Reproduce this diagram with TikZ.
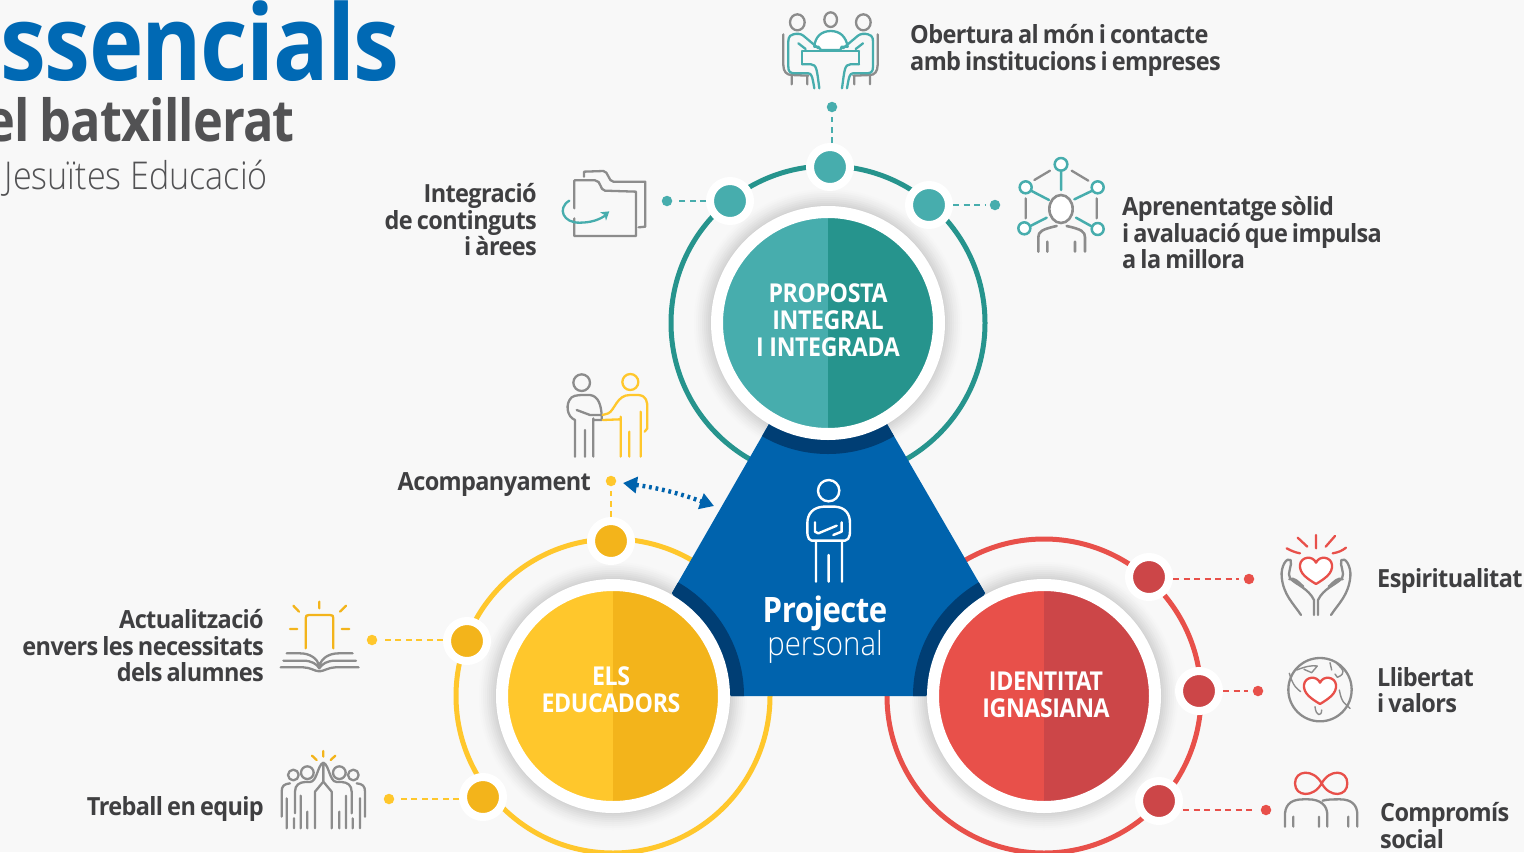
\documentclass[tikz,border=0pt]{standalone}
\usepackage{fontspec}
\usetikzlibrary{arrows.meta,calc}
\setmainfont{Open Sans}
\newfontfamily\oslab[FakeStretch=0.94,LetterSpace=-2.5,WordSpace=0.75]{Open Sans}
\newfontfamily\osdisc[FakeStretch=0.89,LetterSpace=-1.5]{Open Sans}
\newfontfamily\ostitle[FakeStretch=0.878,LetterSpace=-1.5]{Open Sans}
\newfontfamily\ostwo[FakeStretch=0.87,LetterSpace=-1.5,WordSpace=0.8]{Open Sans}
\newfontfamily\oslight[FakeStretch=0.89]{Open Sans Light}
\definecolor{bgc}{HTML}{F8F8F8}
\definecolor{tealL}{HTML}{47ADAD}
\definecolor{tealD}{HTML}{26948D}
\definecolor{yelL}{HTML}{FFC72C}
\definecolor{yelD}{HTML}{F3B41B}
\definecolor{redL}{HTML}{E8504A}
\definecolor{redD}{HTML}{CC4648}
\definecolor{blueM}{HTML}{0063AD}
\definecolor{blueD}{HTML}{003E74}
\definecolor{titleblue}{HTML}{0069B4}
\definecolor{txt}{HTML}{3F3F41}
\definecolor{ico}{HTML}{8C8C8C}
\newcommand{\labfont}{\oslab\bfseries\fontsize{25}{26.7}\selectfont}
\newcommand{\discfont}{\osdisc\bfseries\fontsize{26}{27}\selectfont}
\newcommand{\hrt}[1]{\draw[#1,fill=white] (558,192) .. controls (530,175) and (508,160) .. (510,135) .. controls (512,110) and (548,105) .. (558,128) .. controls (568,105) and (604,110) .. (606,135) .. controls (608,160) and (586,175) .. (558,192) -- cycle;}
\tikzset{
  lab/.style={text=txt,font=\labfont,inner sep=0pt},
  labL/.style={lab,align=left,anchor=north west},
  labR/.style={lab,align=right,anchor=north east},
  disctxt/.style={text=white,font=\discfont,align=center,inner sep=0pt},
  disc/.style n args={2}{circle,minimum size=222pt,inner sep=0pt,draw=white,line width=12pt,fill=#1,
    path picture={\fill[#2] (path picture bounding box.north) rectangle (path picture bounding box.south east);}},
  bigdot/.style={circle,minimum size=40pt,inner sep=0pt,draw=white,line width=8pt,fill=#1},
  smalldot/.style={circle,minimum size=10.5pt,inner sep=0pt,fill=#1},
  conn/.style={draw=#1,line width=2.8pt,dash pattern=on 6pt off 4.5pt,shorten >=5pt},
  ring/.style={draw=#1,line width=5pt},
  ig/.style={draw=ico,line width=2.3pt,line cap=round,line join=round},
  ic/.style={draw=#1,line width=2.3pt,line cap=round,line join=round},
  zm/.style={shift={#1},x=0.33333pt,y=-0.33333pt},
}
\begin{document}
\begin{tikzpicture}[x=1pt,y=-1pt]
\useasboundingbox (0,0) rectangle (1524,852);
\clip (0,0) rectangle (1524,852);
\fill[bgc] (0,0) rectangle (1524,852);

% rings
\draw[ring=tealD] (828,323) circle[radius=157];
\draw[ring=yelL] (613,696) circle[radius=157];
\draw[ring=redL] (1044,696) circle[radius=157];

% soft shadows
\foreach \cx/\cy in {828/323,613/696,1044/696}{
  \foreach \r/\s in {134/1,132/2,130/3.5,128/5,126/7,124/9,122/11,120/13,118/15}{
    \fill[black!\s!bgc] (\cx,\cy) circle[radius=\r];
  }
}

% central blue shape
\path[fill=blueM] (769,424) -- (887,424) -- (985,593) -- (926,696) -- (731,696) -- (672,593) -- cycle;
\begin{scope}
  \clip (769,424) -- (887,424) -- (985,593) -- (926,696) -- (731,696) -- (672,593) -- cycle;
  \fill[blueD] (828,323) circle[radius=131];
  \fill[blueD] (613,696) circle[radius=131];
  \fill[blueD] (1044,696) circle[radius=131];
\end{scope}

% main discs
\node[disc={tealL}{tealD}] (dT) at (828,323) {};
\node[disc={yelL}{yelD}] (dY) at (613,696) {};
\node[disc={redL}{redD}] (dR) at (1044,696) {};
\node[disctxt] (tT) at (828,320) {PROPOSTA\\INTEGRAL\\I INTEGRADA};
\node[disctxt] (tY) at (611,690) {ELS\\EDUCADORS};
\node[disctxt] (tR) at (1046,695) {IDENTITAT\\IGNASIANA};

% satellite dots
\node[bigdot=tealL] (t1) at (830,167) {};
\node[bigdot=tealL] (t2) at (730,201) {};
\node[bigdot=tealL] (t3) at (929,205) {};
\node[smalldot=tealL] (t1s) at (832,107) {};
\node[smalldot=tealL] (t2s) at (667,201) {};
\node[smalldot=tealL] (t3s) at (995,205) {};
\draw[conn=tealL] (t1.north -| t1s) -- (t1s);
\draw[conn=tealL] (t2.west) -- (t2s);
\draw[conn=tealL] (t3.east) -- (t3s);

\node[bigdot=yelD] (y1) at (611,541) {};
\node[bigdot=yelD] (y2) at (467,641) {};
\node[bigdot=yelD] (y3) at (483,797) {};
\node[smalldot=yelL] (y1s) at (611,481) {};
\node[smalldot=yelL] (y2s) at (372,640) {};
\node[smalldot=yelL] (y3s) at (389,799) {};
\draw[conn=yelL] (y1.north) -- (y1s);
\draw[conn=yelL] (y2.west |- y2s) -- (y2s);
\draw[conn=yelL] (y3.west |- y3s) -- (y3s);

\node[bigdot=redD] (r1) at (1149,577) {};
\node[bigdot=redD] (r2) at (1199,691) {};
\node[bigdot=redD] (r3) at (1159,801) {};
\node[smalldot=redL] (r1s) at (1249,579) {};
\node[smalldot=redL] (r2s) at (1258,691) {};
\node[smalldot=redL] (r3s) at (1266,810) {};
\draw[conn=redL] (r1.east |- r1s) -- (r1s);
\draw[conn=redL] (r2.east |- r2s) -- (r2s);
\draw[conn=redL] (r3.east |- r3s) -- (r3s);

% double arrow
\coordinate (arA) at (623,483);
\coordinate (arB) at (714,506);
\draw[blueM,line width=4.4pt,dash pattern=on 2.8pt off 3.8pt,{Triangle[length=14pt,width=16pt]}-{Triangle[length=14pt,width=16pt]}] (arA) to[bend left=6] (arB);

% titles
\node[anchor=base east,inner sep=0pt,text=titleblue,font=\ostitle\bfseries\fontsize{105}{105}\selectfont] (title1) at (400,80) {Essencials};
\node[anchor=base east,inner sep=0pt,text=txt!90!white,font=\ostwo\bfseries\fontsize{58}{58}\selectfont] (title2) at (295,141) {el batxillerat};
\node[anchor=base east,inner sep=0pt,text=txt!90!white,font=\oslight\fontsize{38.3}{38.3}\selectfont] (title3) at (268,189) {Jesuïtes Educació};

% labels
\node[labL] (l1) at (910,24) {Obertura al món i contacte\\amb institucions i empreses};
\node[labL] (l2) at (1122,196) {Aprenentatge sòlid\\i avaluació que impulsa\\a la millora};
\node[labR] (l3) at (537,183) {Integració\\de continguts\\i àrees};
\node[labR] (l4) at (591,472) {Acompanyament};
\node[labR] (l5) at (264,609) {Actualització\\envers les necessitats\\dels alumnes};
\node[labR] (l6) at (264,796) {Treball en equip};
\node[labL] (l7) at (1377,568) {Espiritualitat};
\node[labL] (l8) at (1377,667) {Llibertat\\i valors};
\node[labL] (l9) at (1380,802) {Compromís\\social};

% central label
\node[inner sep=0pt,text=white,font=\osdisc\bfseries\fontsize{35}{35}\selectfont] (pj) at (825,613) {Projecte};
\node[inner sep=0pt,text=white,font=\oslight\fontsize{33}{33}\selectfont] (pp) at (825,647) {personal};

% person icon (blue)
\begin{scope}[zm={(540,360)}]
  \draw[white,line width=2.4pt,line cap=round,line join=round]
    (866,392) circle[radius=32]
    (815,542) .. controls (800,538) and (802,520) .. (802,490) .. controls (802,460) and (820,442) .. (850,440) -- (885,440) .. controls (915,442) and (930,460) .. (930,490) .. controls (930,520) and (932,538) .. (915,542) -- cycle
    (825,487) -- (825,515) -- (835,520) -- (890,497)
    (905,487) -- (905,515) -- (880,525)
    (828,545) -- (828,665) (906,545) -- (906,665) (866,585) -- (866,665);
\end{scope}

% handshake icon
\begin{scope}[zm={(540,360)}]
  \draw[ig] (125,68) circle[radius=25]
    (105,290) -- (105,180) .. controls (80,170) and (75,130) .. (95,112) .. controls (105,104) and (125,105) .. (150,105) .. controls (175,108) and (183,135) .. (185,165) -- (150,165) -- (110,150)
    (135,210) -- (135,290) (160,175) -- (160,290) (185,165) -- (185,180) -- (160,180);
  \draw[ic=yelL] (271,66) circle[radius=24]
    (188,165) -- (205,160) .. controls (225,150) and (230,105) .. (270,105) -- (295,105) .. controls (320,107) and (322,125) .. (322,145) -- (322,205) -- (314,215)
    (242,170) -- (242,290) (268,215) -- (268,290) (302,155) -- (302,290) (188,180) -- (240,178);
\end{scope}

% meeting icon
\begin{scope}[zm={(775,5)}]
  \draw[ig] (67,52) ellipse[x radius=22,y radius=24] (167,44) ellipse[x radius=19,y radius=22] (265,52) ellipse[x radius=22,y radius=24]
    (25,88) -- (25,180) .. controls (25,200) and (35,210) .. (50,210) -- (100,212) (50,212) -- (50,238) (97,212) -- (97,238)
    (308,88) -- (308,180) .. controls (308,200) and (298,210) .. (285,210) -- (235,212) (238,212) -- (238,238) (285,212) -- (285,238);
  \draw[ic=tealL,fill=white] (118,125) .. controls (120,95) and (140,78) .. (167,78) .. controls (195,78) and (213,95) .. (218,125) -- (200,125) -- (196,135) -- (138,135) -- (130,125) -- cycle;
  \draw[ic=tealL] (82,138) -- (252,138) (82,138) -- (82,178) (252,138) -- (252,178);
  \foreach \m in {0,1}{
  \begin{scope}[shift={(\m*334,0)},xscale=1-2*\m]
    \draw[ic=tealL] (130,130) -- (85,92) .. controls (78,86) and (65,85) .. (55,88) .. controls (38,92) and (40,105) .. (40,120) -- (40,185) .. controls (40,200) and (45,205) .. (60,205) -- (100,205) .. controls (110,205) and (112,215) .. (118,250)
      (70,115) -- (92,132) (82,178) -- (108,178) .. controls (125,180) and (125,190) .. (133,250);
  \end{scope}}
\end{scope}

% folder icon
\begin{scope}[zm={(540,0)}]
  \draw[ig] (103,655) -- (103,708) -- (288,708) -- (288,575) -- (195,572) .. controls (178,570) and (185,542) .. (165,541) -- (103,541) -- (103,625)
    (132,530) -- (132,515) -- (190,513) .. controls (205,513) and (205,545) .. (220,545) -- (316,545) -- (316,680) -- (296,682);
  \draw[ic=tealL] (88,602) .. controls (50,625) and (70,670) .. (120,668) .. controls (150,668) and (180,660) .. (200,643);
  \fill[tealL] (180,637) -- (208,634) -- (198,662) -- (194,645) -- cycle;
\end{scope}

% network icon
\begin{scope}[zm={(1005,150)}]
  \draw[ic=tealL,line width=2.5pt,fill=white] (168,43) circle[radius=19] (62,112) circle[radius=18] (278,112) circle[radius=18] (58,235) circle[radius=18] (278,237) circle[radius=18];
  \draw[ic=tealL,line width=2.5pt] (168,62) -- (168,120) (78,122) -- (132,150) (262,122) -- (208,148) (76,228) -- (125,203) (258,228) -- (213,203);
  \draw[ig] (88,90) -- (135,62) (200,62) -- (250,92) (62,145) -- (62,205) (275,145) -- (275,205);
  \draw[ig,line width=2.6pt,fill=white] (168,177) ellipse[x radius=35,y radius=42];
  \draw[ig,line width=2.6pt] (100,305) -- (100,262) .. controls (100,245) and (110,238) .. (155,228) (240,305) -- (240,262) .. controls (240,245) and (230,238) .. (185,228) (127,275) -- (127,305) (210,275) -- (210,305);
\end{scope}

% book icon
\begin{scope}[zm={(260,590)}]
  \draw[ic=yelD] (137,175) -- (137,85) .. controls (137,77) and (140,75) .. (147,75) -- (210,75) .. controls (218,75) and (220,77) .. (220,85) -- (220,175)
    (178,35) -- (178,55) (100,47) -- (117,65) (258,47) -- (240,65) (90,117) -- (112,117) (245,117) -- (268,117);
  \draw[ig] (80,190) -- (120,190) .. controls (150,190) and (170,205) .. (178,225) .. controls (186,205) and (206,190) .. (236,190) -- (278,190)
    (70,212) -- (130,212) .. controls (155,212) and (170,222) .. (178,235) .. controls (186,222) and (201,212) .. (226,212) -- (288,212)
    (62,232) -- (130,232) .. controls (150,232) and (165,244) .. (178,244) .. controls (191,244) and (206,232) .. (226,232) -- (296,232);
\end{scope}

% team icon
\begin{scope}[zm={(260,590)}]
  \draw[ic=yelD] (190,483) -- (190,500) (156,497) -- (170,510) (226,497) -- (212,510);
  \foreach \m in {0,1}{
  \begin{scope}[shift={(\m*380,0)},xscale=1-2*\m]
    \draw[ig] (100,555) circle[radius=16] (142,548) circle[radius=19]
      (65,680) -- (65,605) .. controls (65,588) and (72,582) .. (90,580)
      (80,625) -- (80,715) (102,685) -- (102,715)
      (105,670) -- (105,605) .. controls (105,585) and (118,577) .. (135,576) -- (150,576) .. controls (172,575) and (172,525) .. (190,518)
      (122,617) -- (122,715) (142,665) -- (142,715) (165,715) -- (165,605) -- (190,575) (190,522) -- (190,575);
  \end{scope}}
\end{scope}

% hands with heart
\begin{scope}[zm={(1130,520)}]
  \foreach \m in {0,1}{
  \begin{scope}[shift={(\m*1116,0)},xscale=1-2*\m]
    \draw[ig] (513,285) .. controls (490,250) and (460,225) .. (455,170) .. controls (452,140) and (470,110) .. (482,120) .. controls (488,135) and (470,160) .. (480,175) .. controls (500,195) and (535,205) .. (552,240) -- (552,285)
      (478,178) .. controls (490,170) and (505,185) .. (520,200);
  \end{scope}}
  \hrt{ic=redL}
  \draw[ic=redL] (558,45) -- (558,85) (503,53) -- (532,80) (615,48) -- (587,80)
    (470,85) .. controls (485,93) and (495,97) .. (510,100) (648,83) .. controls (635,93) and (625,97) .. (608,100);
\end{scope}

% globe with heart
\begin{scope}[zm={(1130,520)}]
  \draw[ig] (570,509) circle[radius=95];
  \draw[ig,line width=1.4pt] (478,460) .. controls (490,500) and (500,505) .. (512,515)
    (500,450) .. controls (525,440) and (545,435) .. (562,438) -- (545,458) -- (522,448)
    (600,428) -- (605,450) (620,430) .. controls (640,450) and (650,460) .. (622,472) -- (615,462)
    (628,510) .. controls (635,550) and (645,550) .. (660,565)
    (555,560) .. controls (558,590) and (575,590) .. (575,570);
  \begin{scope}[shift={(12,360)}]
    \hrt{ic=redL}
  \end{scope}
\end{scope}

% infinity and people
\begin{scope}[zm={(1130,520)}]
  \draw[ic=redL] (575,790) .. controls (550,745) and (495,750) .. (495,790) .. controls (495,830) and (550,835) .. (575,790) .. controls (600,745) and (652,750) .. (652,790) .. controls (652,830) and (600,835) .. (575,790);
  \draw[ig] (465,920) -- (465,880) .. controls (468,848) and (490,838) .. (520,838) -- (535,838) .. controls (570,838) and (592,855) .. (592,885) -- (592,920)
    (578,842) .. controls (590,838) and (610,838) .. (630,838) .. controls (665,838) and (682,855) .. (682,885) -- (682,920)
    (490,890) -- (490,920) (567,890) -- (567,920) (655,890) -- (655,920);
\end{scope}
\end{tikzpicture}
\end{document}
